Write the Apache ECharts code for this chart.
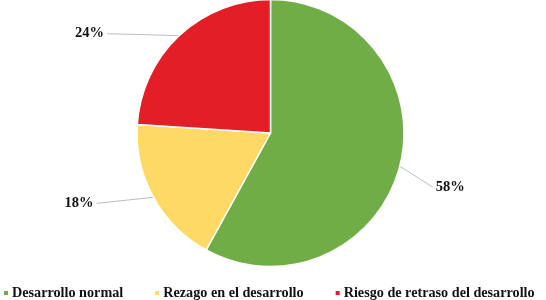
<!DOCTYPE html>
<html>
<head>
<meta charset="utf-8">
<script src="https://cdn.jsdelivr.net/npm/echarts@6/dist/echarts.min.js"></script>
<style>html,body{margin:0;padding:0;background:#fff}#c{width:546px;height:300px}</style>
</head>
<body>
<div id="c"></div>
<script>
var categories = ['Desarrollo normal', 'Rezago en el desarrollo', 'Riesgo de retraso del desarrollo'];
var values = [58, 18, 24];
var colors = ['#70AD47', '#FFD966', '#E41E26'];
// label offsets from the slice edge point (line end) per slice
var labelOffsets = [[33, 21, 'left'], [-57, 6, 'right'], [-72, -2, 'right']];

var chart = echarts.init(document.getElementById('c'));
var font = '"Liberation Serif", "Times New Roman", serif';
chart.setOption({
  animation: false,
  color: colors,
  legend: {
    data: categories,
    orient: 'horizontal',
    left: 2,
    bottom: 0,
    width: 700,
    padding: 0,
    icon: 'rect',
    itemWidth: 6,
    itemHeight: 6,
    itemGap: 30,
    textStyle: { fontFamily: font, fontWeight: 'bold', fontSize: 14.2, color: '#111', padding: [0, 0, 0, -2] }
  },
  series: [{
    type: 'pie',
    center: [270.5, 133],
    radius: [0, 133.5],
    startAngle: 90,
    clockwise: true,
    data: categories.map(function (c, i) { return { name: c, value: values[i] }; }),
    itemStyle: { borderColor: '#fff', borderWidth: 1.5 },
    label: {
      show: true,
      formatter: '{d}%',
      fontFamily: font,
      fontWeight: 'bold',
      fontSize: 14.5,
      color: '#111'
    },
    labelLine: { show: true, length: 10, length2: 10, lineStyle: { color: '#bdbdbd', width: 1 } },
    labelLayout: function (params) {
      var p0 = params.labelLinePoints[0];
      var o = labelOffsets[params.dataIndex];
      var ex = p0[0] + o[0], ey = p0[1] + o[1];
      var gap = o[2] === 'left' ? 3 : -3;
      return {
        x: ex + gap,
        y: ey,
        align: o[2],
        verticalAlign: 'middle',
        labelLinePoints: [p0, [ex, ey], [ex, ey]]
      };
    }
  }]
});
</script>
</body>
</html>
